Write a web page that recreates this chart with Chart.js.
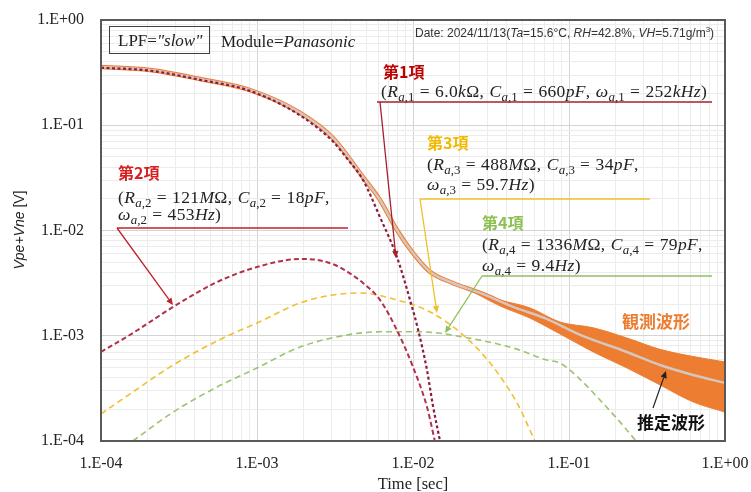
<!DOCTYPE html>
<html><head><meta charset="utf-8">
<script src="https://cdn.jsdelivr.net/npm/chart.js@4/dist/chart.umd.min.js"></script>
<style>html,body{margin:0;padding:0;background:#fff}#wrap{width:751px;height:492px;position:relative}</style>
</head><body><div id="wrap"><canvas id="c" width="751" height="492"></canvas></div>
<script>
// ---- tick values / labels ----
const xTickValues = [1e-4, 1e-3, 1e-2, 1e-1, 1];
const xTickLabels = ['1.E-04', '1.E-03', '1.E-02', '1.E-01', '1.E+00'];
const yTickValues = [1e-4, 1e-3, 1e-2, 1e-1, 1];
const yTickLabels = ['1.E-04', '1.E-03', '1.E-02', '1.E-01', '1.E+00'];

// ---- series ----
const term1T = [1.0e-4, 2.06e-4, 4.32e-4, 9.02e-4, 1.89e-3, 3.07e-3, 3.83e-3, 4.78e-3, 6.14e-3, 7.89e-3, 9.57e-3, 1.08e-2, 1.23e-2, 1.34e-2, 1.49e-2];
const term1V = [0.352, 0.330, 0.270, 0.212, 0.124, 0.0700, 0.0470, 0.0302, 0.0134, 0.0056, 0.00219, 0.00113, 0.00047, 0.00022, 0.0001];

const term2T = [1.0e-4, 1.6e-4, 2.9e-4, 5.55e-4, 1.0e-3, 1.89e-3, 2.43e-3, 3.16e-3, 3.83e-3, 4.78e-3, 6.14e-3, 7.89e-3, 1.0e-2, 1.23e-2, 1.38e-2];
const term2V = [0.000701, 0.00106, 0.00188, 0.00324, 0.00450, 0.00536, 0.00525, 0.00470, 0.00403, 0.00317, 0.00219, 0.00113, 0.000505, 0.000210, 0.0001];

const term3T = [1.0e-4, 1.6e-4, 2.9e-4, 6.06e-4, 1.0e-3, 1.89e-3, 3.07e-3, 4.57e-3, 7.89e-3, 1.29e-2, 2.09e-2, 3.12e-2, 4.64e-2, 6.05e-2];
const term3V = [0.000181, 0.000292, 0.000527, 0.000952, 0.00132, 0.00205, 0.00244, 0.00255, 0.00219, 0.00168, 0.00102, 0.000551, 0.000230, 0.0001];

const term4T = [1.6e-4, 2.9e-4, 5.55e-4, 1.0e-3, 1.89e-3, 3.83e-3, 6.14e-3, 1.11e-2, 2.09e-2, 4.38e-2, 7.22e-2, 8.75e-2, 0.114, 0.158, 0.212, 0.269];
const term4V = [0.0001, 0.000188, 0.000326, 0.000494, 0.000782, 0.00102, 0.00109, 0.00109, 0.000973, 0.000765, 0.000588, 0.000551, 0.000404, 0.000245, 0.000152, 0.0001];

const estT = [1.0e-4, 2.06e-4, 4.32e-4, 9.02e-4, 1.89e-3, 3.07e-3, 4.78e-3, 6.14e-3, 7.89e-3, 1.0e-2, 1.29e-2, 1.80e-2, 2.69e-2, 4.38e-2, 7.0e-2, 0.118, 0.235, 0.383, 0.624, 1.0];
const estV = [0.357, 0.335, 0.275, 0.216, 0.131, 0.0757, 0.0322, 0.0195, 0.0101, 0.00611, 0.00403, 0.00317, 0.00255, 0.00188, 0.00147, 0.00102, 0.000701, 0.000527, 0.000424, 0.000356];

const obsT = [1.0e-4, 2.06e-4, 4.32e-4, 9.02e-4, 1.89e-3, 3.07e-3, 4.78e-3, 6.14e-3, 7.89e-3, 1.0e-2, 1.29e-2, 1.80e-2, 2.69e-2, 4.38e-2, 7.0e-2, 0.118, 0.235, 0.383, 0.624, 1.0];
const obsV = [0.357, 0.335, 0.275, 0.216, 0.131, 0.0757, 0.0322, 0.0195, 0.0101, 0.00611, 0.00403, 0.00317, 0.00255, 0.00188, 0.00147, 0.00102, 0.000701, 0.000527, 0.000424, 0.000356];

const bandT = [0.0232, 0.0361, 0.0562, 0.0875, 0.143, 0.235, 0.383, 0.624, 1.0];
const bandUpper = [0.0028, 0.00219, 0.00184, 0.00135, 0.00119, 0.000952, 0.000743, 0.000635, 0.000564];
const bandLower = [0.0027, 0.00192, 0.00147, 0.00104, 0.000701, 0.000494, 0.000341, 0.000235, 0.000188];

// ---- helpers ----
const pts = (T, V) => T.map((t, i) => ({x: t, y: V[i]}));
function decadeTicks(vals) {
  const out = [];
  for (let i = 0; i < vals.length; i++) {
    out.push({value: vals[i], major: true});
    if (i < vals.length - 1) for (let k = 2; k <= 9; k++) out.push({value: vals[i] * k, major: false});
  }
  return out;
}
function labelFor(vals, labels, v) {
  for (let i = 0; i < vals.length; i++) if (Math.abs(Math.log10(v) - Math.log10(vals[i])) < 1e-6) return labels[i];
  return '';
}
const lineDs = (data, color, width, dash, order) => ({
  data, borderColor: color, borderWidth: width, borderDash: dash, pointRadius: 0,
  fill: false, cubicInterpolationMode: 'monotone', order, clip: 0
});

function mathSegs(str) {
  const segs = []; let i = 0;
  while (i < str.length) {
    if (str[i] === '_' && str[i + 1] === '{') {
      const j = str.indexOf('}', i);
      for (const ch of str.slice(i + 2, j)) segs.push({ch, sub: true});
      i = j + 1;
    } else { segs.push({ch: str[i], sub: false}); i++; }
  }
  return segs;
}
function drawMath(ctx, str, x, yc, size, color) {
  ctx.save(); ctx.fillStyle = color; ctx.textAlign = 'left'; ctx.textBaseline = 'alphabetic';
  let cx = x; const yb = yc + size * 0.33;
  for (const s of mathSegs(str)) {
    if (s.ch === ' ') { cx += size * 0.3; continue; }
    const fs = s.sub ? size * 0.74 : size;
    const it = /[A-Za-zω]/.test(s.ch);
    ctx.font = (it ? 'italic ' : '') + fs.toFixed(2) + 'px "Liberation Serif"';
    ctx.fillText(s.ch, cx, yb + (s.sub ? size * 0.25 : 0));
    cx += ctx.measureText(s.ch).width + (s.sub ? 0 : size * 0.02);
  }
  ctx.restore();
}
function drawRich(ctx, x, yb, parts, color) {
  ctx.save(); ctx.fillStyle = color; ctx.textAlign = 'left'; ctx.textBaseline = 'alphabetic';
  let cx = x;
  for (const p of parts) { ctx.font = p.font; ctx.fillText(p.t, cx, yb + (p.dy || 0)); cx += ctx.measureText(p.t).width; }
  ctx.restore();
  return cx - x;
}
function arrow(ctx, x1, y1, x2, y2, color, w) {
  ctx.save(); ctx.strokeStyle = color; ctx.fillStyle = color; ctx.lineWidth = w;
  const a = Math.atan2(y2 - y1, x2 - x1), L = 7, H = 3.2;
  const bx = x2 - L * Math.cos(a), by = y2 - L * Math.sin(a);
  ctx.beginPath(); ctx.moveTo(x1, y1); ctx.lineTo(bx, by); ctx.stroke();
  ctx.beginPath(); ctx.moveTo(x2, y2);
  ctx.lineTo(bx + H * Math.sin(a), by - H * Math.cos(a));
  ctx.lineTo(bx - H * Math.sin(a), by + H * Math.cos(a));
  ctx.closePath(); ctx.fill(); ctx.restore();
}
function hline(ctx, x1, x2, y, color, w) {
  ctx.save(); ctx.strokeStyle = color; ctx.lineWidth = w;
  ctx.beginPath(); ctx.moveTo(x1, y); ctx.lineTo(x2, y); ctx.stroke(); ctx.restore();
}
function cjk(ctx, t, x, yc, size, color, align) {
  ctx.save(); ctx.font = 'bold ' + size + 'px "Noto Sans CJK JP"'; ctx.fillStyle = color;
  ctx.textAlign = align || 'left'; ctx.textBaseline = 'middle'; ctx.fillText(t, x, yc); ctx.restore();
}

const overlay = {
  id: 'overlay',
  afterDraw(chart) {
    const ctx = chart.ctx, a = chart.chartArea;
    // frame
    ctx.save(); ctx.strokeStyle = '#595959'; ctx.lineWidth = 2;
    ctx.strokeRect(a.left, a.top, a.right - a.left, a.bottom - a.top); ctx.restore();

    // LPF box
    ctx.save(); ctx.strokeStyle = '#404040'; ctx.lineWidth = 1; ctx.strokeRect(109.5, 26.5, 100, 27); ctx.restore();
    drawRich(ctx, 118, 46, [{t: 'LPF=', font: '17px "Liberation Serif"'}, {t: '"slow"', font: 'italic 17px "Liberation Serif"'}], '#222');
    drawRich(ctx, 221, 47, [{t: 'Module=', font: '17px "Liberation Serif"'}, {t: 'Panasonic', font: 'italic 17px "Liberation Serif"'}], '#222');

    // date
    const df = '12px "Liberation Sans"', dfi = 'italic 12px "Liberation Sans"';
    drawRich(ctx, 415, 37, [
      {t: 'Date: 2024/11/13(', font: df}, {t: 'Ta', font: dfi}, {t: '=15.6°C, ', font: df},
      {t: 'RH', font: dfi}, {t: '=42.8%, ', font: df}, {t: 'VH', font: dfi}, {t: '=5.71g/m', font: df},
      {t: '3', font: '8px "Liberation Sans"', dy: -5}, {t: ')', font: df}], '#333');

    // term 1
    cjk(ctx, '第1項', 383, 72, 16, '#c00000');
    drawMath(ctx, '(R_{a,1} = 6.0kΩ, C_{a,1} = 660pF, ω_{a,1} = 252kHz)', 381, 91, 17.5, '#222');
    hline(ctx, 377, 712, 102, '#a5202e', 1.3);
    arrow(ctx, 380, 102, 396, 258, '#a5202e', 1.3);

    // term 2
    cjk(ctx, '第2項', 118, 173, 16, '#d42020');
    drawMath(ctx, '(R_{a,2} = 121MΩ, C_{a,2} = 18pF,', 118, 197, 17.5, '#222');
    drawMath(ctx, 'ω_{a,2} = 453Hz)', 118, 214, 17.5, '#222');
    hline(ctx, 117, 348, 228, '#c0202a', 1.3);
    arrow(ctx, 117, 228, 173, 305, '#c0202a', 1.3);

    // term 3
    cjk(ctx, '第3項', 427, 143, 16, '#f2b900');
    drawMath(ctx, '(R_{a,3} = 488MΩ, C_{a,3} = 34pF,', 427, 164, 17.5, '#222');
    drawMath(ctx, 'ω_{a,3} = 59.7Hz)', 427, 184, 17.5, '#222');
    hline(ctx, 420, 650, 199, '#f0c02a', 1.3);
    arrow(ctx, 420, 199, 437, 313, '#f0c02a', 1.3);

    // term 4
    cjk(ctx, '第4項', 482, 223, 16, '#8cc050');
    drawMath(ctx, '(R_{a,4} = 1336MΩ, C_{a,4} = 79pF,', 482, 244, 17.5, '#222');
    drawMath(ctx, 'ω_{a,4} = 9.4Hz)', 482, 265, 17.5, '#222');
    hline(ctx, 482, 712, 276, '#8ec05c', 1.3);
    arrow(ctx, 482, 276, 445, 333, '#8ec05c', 1.3);

    // waveform labels
    cjk(ctx, '観測波形', 656, 322, 17, '#ed7d31', 'center');
    cjk(ctx, '推定波形', 671, 423, 17, '#111', 'center');
    arrow(ctx, 653, 408, 666, 371, '#222', 1.2);

    // axis titles
    ctx.save(); ctx.font = '16.5px "Liberation Serif"'; ctx.fillStyle = '#222'; ctx.textAlign = 'center'; ctx.textBaseline = 'middle';
    ctx.fillText('Time [sec]', (a.left + a.right) / 2, 485); ctx.restore();
    ctx.save(); ctx.translate(19, 230); ctx.rotate(-Math.PI / 2);
    ctx.font = 'italic 14px "Liberation Sans"';
    const w1 = ctx.measureText('Vpe+Vne').width;
    ctx.font = '14px "Liberation Sans"';
    const w2 = ctx.measureText(' [V]').width;
    drawRich(ctx, -(w1 + w2) / 2, 5, [{t: 'Vpe+Vne', font: 'italic 14px "Liberation Sans"'}, {t: ' [V]', font: '14px "Liberation Sans"'}], '#222');
    ctx.restore();
  }
};

const gridColor = (c) => (c.tick && c.tick.major) ? '#d4d4d4' : '#ececec';

new Chart(document.getElementById('c'), {
  type: 'line',
  data: {
    datasets: [
      lineDs(pts(term1T, term1V), '#8e1b3b', 2.2, [3, 2.5], 0),
      lineDs(pts(estT, estV), '#d6c6be', 2.5, [], 1),
      lineDs(pts(obsT, obsV), '#ed7d31', 4.5, [], 2),
      lineDs(pts(bandT, bandUpper), '#ed7d31', 1, [], 3),
      Object.assign(lineDs(pts(bandT, bandLower), 'rgba(237,125,49,0.8)', 1, [], 3), {fill: '-1', backgroundColor: '#ed7d31'}),
      lineDs(pts(term2T, term2V), '#b3304a', 2, [5, 3], 5),
      lineDs(pts(term3T, term3V), '#f0c030', 1.6, [6, 4], 6),
      lineDs(pts(term4T, term4V), '#9cc46e', 1.6, [6, 4], 7)
    ]
  },
  options: {
    responsive: false, animation: false, devicePixelRatio: 1,
    layout: {padding: {left: 0, right: 26, top: 20, bottom: 0}},
    plugins: {legend: {display: false}, tooltip: {enabled: false}},
    scales: {
      x: {
        type: 'logarithmic', min: 1e-4, max: 1,
        afterBuildTicks: (s) => { s.ticks = decadeTicks(xTickValues); },
        afterFit: (s) => { s.height = 51; s.paddingLeft = 0; s.paddingRight = 0; },
        grid: {color: gridColor, drawTicks: false, lineWidth: 1},
        border: {display: false},
        ticks: {autoSkip: false, maxRotation: 0, padding: 13, color: '#222',
          font: {family: 'Liberation Serif', size: 16},
          callback: (v) => labelFor(xTickValues, xTickLabels, v)}
      },
      y: {
        type: 'logarithmic', min: 1e-4, max: 1,
        afterBuildTicks: (s) => { s.ticks = decadeTicks(yTickValues); },
        afterFit: (s) => { s.width = 101; s.paddingTop = 0; s.paddingBottom = 0; },
        grid: {color: gridColor, drawTicks: false, lineWidth: 1},
        border: {display: false},
        ticks: {autoSkip: false, padding: 17, color: '#222',
          font: {family: 'Liberation Serif', size: 16},
          callback: (v) => labelFor(yTickValues, yTickLabels, v)}
      }
    }
  },
  plugins: [overlay]
});
</script></body></html>
